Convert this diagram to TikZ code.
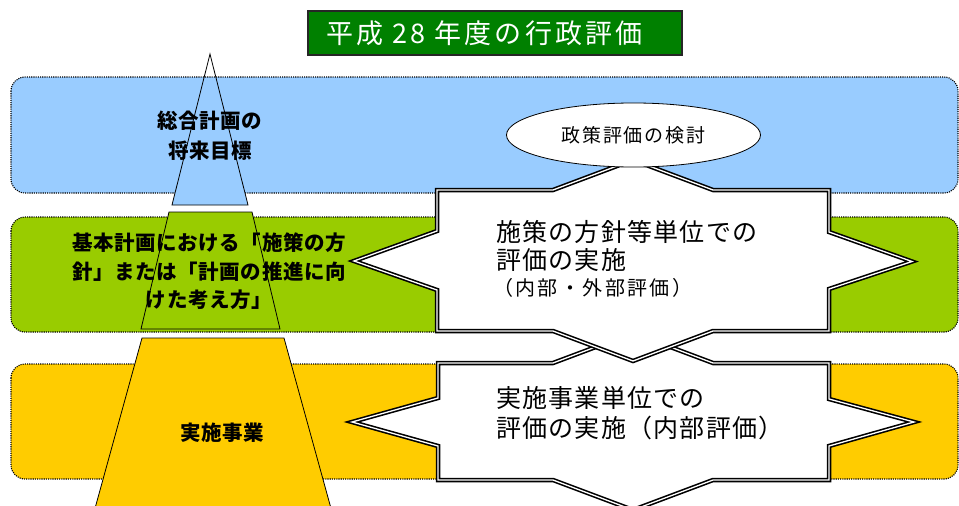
\documentclass[tikz,border=0pt]{standalone}
\usepackage{fontspec}
\setmainfont{Noto Sans CJK JP}
\usetikzlibrary{shapes.geometric}
\definecolor{bandblue}{HTML}{99CCFF}
\definecolor{bandgreen}{HTML}{99CC00}
\definecolor{bandyellow}{HTML}{FFCC00}
\definecolor{titlegreen}{HTML}{008000}
\tikzset{
  band/.style={draw=black, line width=1.1pt, dash pattern=on 1.1pt off 1.1pt, rounded corners=14pt},
  piece/.style={draw=black, line width=0.8pt, line join=miter},
  starshape/.style={draw=black, line width=1.6pt, double=white, double distance=1.3pt, fill=white, line join=miter},
  lefttext/.style={anchor=base, inner sep=0pt, font=\fontsize{20.5}{24}\selectfont\bfseries\addfontfeature{LetterSpace=3}},
  startext/.style={anchor=base west, inner sep=0pt, font=\fontsize{25}{28}\selectfont\addfontfeature{LetterSpace=5}},
  starsmall/.style={anchor=base west, inner sep=0pt, font=\fontsize{20}{24}\selectfont\addfontfeature{LetterSpace=12}},
  titlebox/.style={draw=black!85, line width=1.2pt, fill=titlegreen, text=white, minimum width=374pt, minimum height=44pt, inner ysep=0pt, inner xsep=18pt, text width=338pt, align=left, font=\fontsize{27}{30}\selectfont\addfontfeature{LetterSpace=12}},
  ovalbox/.style={ellipse, draw=black, line width=0.8pt, fill=white, minimum width=254pt, minimum height=64pt, inner sep=0pt, font=\fontsize{19}{22}\selectfont\addfontfeature{LetterSpace=10}}
}
\begin{document}
\begin{tikzpicture}[x=1pt,y=-1pt]
\useasboundingbox (0,0) rectangle (959,506);
% bands
\draw[band, fill=bandblue] (11,77) rectangle (958,193);
\draw[band, fill=bandgreen] (11,217) rectangle (958,332);
\draw[band, fill=bandyellow] (11,364) rectangle (958,479);
% pyramid
\fill[bandblue] (204.2,78) -- (215.8,78) -- (248,205) -- (172,205) -- cycle;
\draw[piece] (210,54) -- (248,205) -- (172,205) -- cycle;
\draw[piece, fill=bandgreen] (169,212) -- (252,212) -- (280,329) -- (141,329) -- cycle;
\draw[piece, fill=bandyellow] (142,338) -- (284,338) -- (332,512) -- (94,512) -- cycle;
% left texts
\node[lefttext] (goal1) at (210,128.6) {総合計画の};
\node[lefttext] (goal2) at (210,158.6) {将来目標};
\node[lefttext] (plan1) at (209,250.6) {基本計画における「施策の方};
\node[lefttext] (plan2) at (209,279.6) {針」または「計画の推進に向};
\node[lefttext] (plan3) at (209,307.6) {けた考え方」};
\node[lefttext] (proj) at (222,440.6) {実施事業};
% lower star
\draw[starshape] (438,363) -- (553,363) -- (633,333) -- (713,363) -- (829,363) -- (829,399) -- (914,422) -- (829,446) -- (829,480) -- (713,480) -- (633,510) -- (553,480) -- (438,480) -- (438,446) -- (352,422) -- (438,398) -- cycle;
% upper star
\draw[starshape] (437,190) -- (553,190) -- (633,160) -- (713,190) -- (829,190) -- (829,232) -- (912,261.5) -- (829,289) -- (829,331) -- (713,331) -- (633,361) -- (553,331) -- (437,331) -- (437,290) -- (354,261) -- (437,231) -- cycle;
% star texts
\node[startext] (s1a) at (496,241.5) {施策の方針等単位での};
\node[startext] (s1b) at (496,269.5) {評価の実施};
\node[starsmall] (s1c) at (493,295.6) {（内部・外部評価）};
\node[startext] (s2a) at (496,407.5) {実施事業単位での};
\node[startext] (s2b) at (496,437.5) {評価の実施（内部評価）};
% ellipse
\node[ovalbox] (policy) at (633.5,135) {政策評価の検討};
% title
\node[titlebox] (title) at (495,33) {平成 28 年度の行政評価};
\end{tikzpicture}
\end{document}
